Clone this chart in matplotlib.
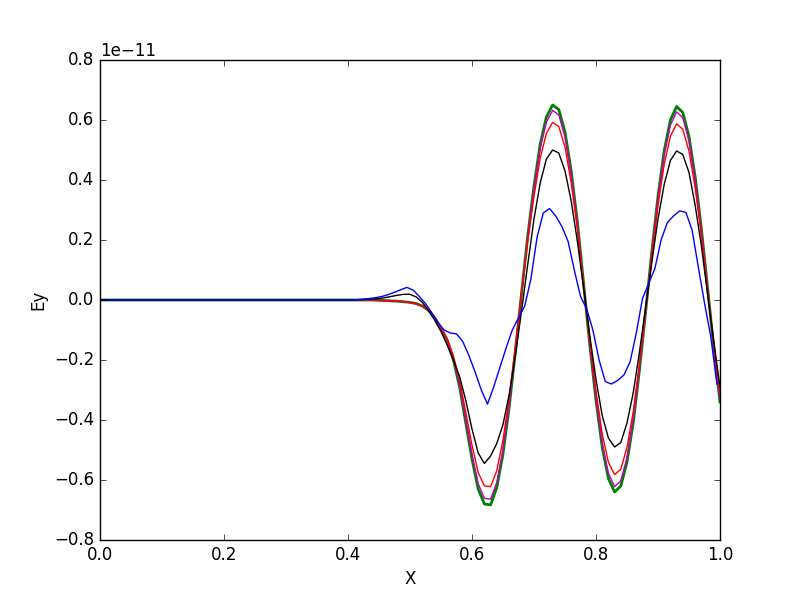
import numpy as np
import matplotlib
matplotlib.use("Agg")
import matplotlib.pyplot as plt

plt.style.use("classic")
plt.rcParams["font.family"] = ["DejaVu Sans"]

# Grid for the smooth curves (0.00 .. 1.00) and for the coarse blue curve (cell centres)
x_fine = np.linspace(0.0, 1.0, 101)
x_blue = np.linspace(0.005, 0.995, 100)

scale = 1e-11

# values in units of 1e-11, x = 0.40 .. 1.00 (all zero before)
green_vals = [0.0, 0.0, 0.0, 0.0, 0.0, -0.001, -0.002, -0.003, -0.004, -0.006,
              -0.008, -0.012, -0.02, -0.035, -0.06, -0.095, -0.135, -0.20, -0.29, -0.41,
              -0.53, -0.63, -0.68, -0.683, -0.625, -0.513, -0.357, -0.17, 0.025, 0.216,
              0.38, 0.52, 0.61, 0.65, 0.635, 0.56, 0.43, 0.26, 0.055, -0.15,
              -0.335, -0.49, -0.595, -0.64, -0.62, -0.54, -0.41, -0.235, -0.04, 0.16,
              0.346, 0.497, 0.60, 0.645, 0.625, 0.545, 0.41, 0.237, 0.04, -0.16,
              -0.34]

magenta_vals = [0.0, 0.0, 0.0, 0.0, 0.0, -0.001, -0.002, -0.003, -0.004, -0.006,
                -0.008, -0.012, -0.02, -0.035, -0.059, -0.093, -0.132, -0.195, -0.282, -0.398,
                -0.515, -0.612, -0.661, -0.664, -0.608, -0.499, -0.347, -0.165, 0.024, 0.21,
                0.369, 0.505, 0.593, 0.632, 0.617, 0.544, 0.418, 0.253, 0.053, -0.146,
                -0.326, -0.476, -0.578, -0.622, -0.603, -0.525, -0.399, -0.228, -0.039, 0.156,
                0.336, 0.483, 0.583, 0.627, 0.608, 0.53, 0.399, 0.23, 0.039, -0.156,
                -0.33]

red_vals = [0.0, 0.0, 0.0, 0.0, 0.0, -0.001, -0.002, -0.003, -0.004, -0.006,
            -0.008, -0.012, -0.02, -0.034, -0.058, -0.09, -0.128, -0.186, -0.266, -0.375,
            -0.484, -0.575, -0.62, -0.622, -0.569, -0.467, -0.325, -0.155, 0.023, 0.197,
            0.346, 0.473, 0.555, 0.592, 0.578, 0.51, 0.391, 0.237, 0.05, -0.137,
            -0.305, -0.446, -0.541, -0.582, -0.564, -0.491, -0.373, -0.214, -0.036, 0.146,
            0.315, 0.452, 0.546, 0.587, 0.569, 0.496, 0.373, 0.216, 0.036, -0.146,
            -0.31]

black_vals = [0.0, 0.0, 0.001, 0.002, 0.003, 0.005, 0.008, 0.012, 0.016, 0.019,
              0.019, 0.01, -0.008, -0.035, -0.068, -0.105, -0.15, -0.2, -0.255, -0.335,
              -0.43, -0.51, -0.545, -0.52, -0.478, -0.415, -0.315, -0.185, -0.035, 0.12,
              0.27, 0.39, 0.47, 0.5, 0.49, 0.43, 0.33, 0.195, 0.04, -0.12,
              -0.265, -0.385, -0.46, -0.49, -0.475, -0.41, -0.31, -0.175, -0.025, 0.125,
              0.27, 0.385, 0.465, 0.497, 0.485, 0.425, 0.315, 0.18, 0.02, -0.14,
              -0.29]

# blue, x = 0.395 .. 0.995 (all zero before)
blue_vals = [0.0, 0.0, 0.001, 0.003, 0.005, 0.008, 0.012, 0.018, 0.026, 0.034,
             0.042, 0.033, 0.012, -0.012, -0.042, -0.075, -0.1, -0.11, -0.113, -0.138,
             -0.185, -0.24, -0.3, -0.347, -0.29, -0.225, -0.16, -0.1, -0.06, -0.02,
             0.07, 0.21, 0.29, 0.305, 0.28, 0.245, 0.195, 0.1, 0.012, -0.03,
             -0.1, -0.2, -0.272, -0.28, -0.268, -0.25, -0.206, -0.11, 0.005, 0.055,
             0.105, 0.2, 0.258, 0.28, 0.297, 0.292, 0.233, 0.11, -0.01, -0.12,
             -0.28]


def full(vals, n_total):
    arr = np.array([0.0] * (n_total - len(vals)) + list(vals))
    return arr * scale


green = full(green_vals, 101)
magenta = full(magenta_vals, 101)
red = full(red_vals, 101)
black = full(black_vals, 101)
blue = full(blue_vals, 100)

fig = plt.figure(figsize=(8, 6), dpi=100, facecolor="white")
ax = fig.add_subplot(111)
fig.subplots_adjust(left=0.125, right=0.9, bottom=0.1, top=0.9)

ax.plot(x_fine, green, color="g", lw=2.0)
ax.plot(x_fine, magenta, color="m", lw=1.0)
ax.plot(x_fine, red, color="r", lw=1.0)
ax.plot(x_fine, black, color="k", lw=1.0)
ax.plot(x_blue, blue, color="b", lw=1.0)

ax.set_xlim(0.0, 1.0)
ax.set_ylim(-0.8e-11, 0.8e-11)
ax.set_xticks(np.arange(0.0, 1.01, 0.2))
ax.set_yticks(np.arange(-0.8, 0.81, 0.2) * scale)
ax.ticklabel_format(axis="y", style="sci", scilimits=(-11, -11))
ax.set_xlabel("X")
ax.set_ylabel("Ey")

fig.savefig("out.png", dpi=100, facecolor="white")
